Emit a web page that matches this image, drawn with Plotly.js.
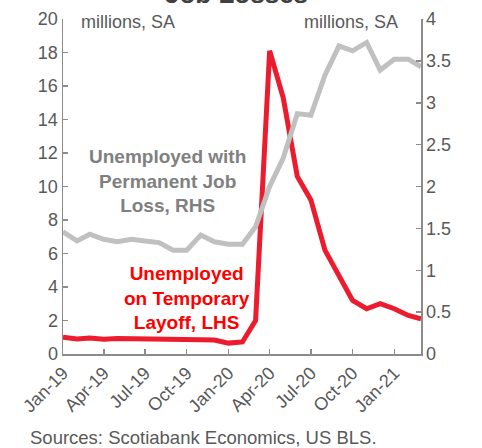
<!DOCTYPE html>
<html>
<head>
<meta charset="utf-8">
<script src="https://cdn.plot.ly/plotly-3.0.1.min.js"></script>
<style>html,body{margin:0;padding:0;background:#fff;}#chart{width:482px;height:448px;}</style>
</head>
<body>
<div id="chart"></div>
<script>
const months = ["2019-01-01","2019-02-01","2019-03-01","2019-04-01","2019-05-01","2019-06-01","2019-07-01","2019-08-01","2019-09-01","2019-10-01","2019-11-01","2019-12-01","2020-01-01","2020-02-01","2020-03-01","2020-04-01","2020-05-01","2020-06-01","2020-07-01","2020-08-01","2020-09-01","2020-10-01","2020-11-01","2020-12-01","2021-01-01","2021-02-01","2021-03-01"];
const temporaryLayoff = [1.0,0.9,0.95,0.88,0.92,0.92,0.92,0.9,0.85,0.9,0.85,0.83,0.65,0.72,2.0,18.1,15.3,10.6,9.2,6.2,4.6,3.2,2.7,3.0,2.7,2.3,2.1];
const permanentLoss = [1.46,1.35,1.43,1.37,1.34,1.37,1.35,1.33,1.24,1.24,1.42,1.34,1.31,1.31,1.52,2.0,2.34,2.87,2.85,3.33,3.68,3.62,3.72,3.39,3.52,3.52,3.43];
const tickDates = ["2019-01-01","2019-04-01","2019-07-01","2019-10-01","2020-01-01","2020-04-01","2020-07-01","2020-10-01","2021-01-01"];
const tickLabels = ["Jan-19","Apr-19","Jul-19","Oct-19","Jan-20","Apr-20","Jul-20","Oct-20","Jan-21"];
const leftTicks = [0,2,4,6,8,10,12,14,16,18,20];
const rightTicks = [0,0.5,1,1.5,2,2.5,3,3.5,4];
const rightTickLabels = ["0","0.5","1","1.5","2","2.5","3","3.5","4"];

const font = "Arial, 'Liberation Sans', sans-serif";
const axisCol = "#8c8c8c";
const txtCol = "#595959";

const traces = [
  {x: months, y: permanentLoss, type: "scatter", mode: "lines", yaxis: "y2",
   line: {color: "#c0c0c0", width: 5}, hoverinfo: "skip"},
  {x: months, y: temporaryLayoff, type: "scatter", mode: "lines", yaxis: "y",
   line: {color: "#ec1c2e", width: 5}, hoverinfo: "skip"}
];

const layout = {
  width: 482, height: 448,
  margin: {l: 63, r: 61, t: 19, b: 94},
  paper_bgcolor: "#fff", plot_bgcolor: "#fff",
  showlegend: false,
  font: {family: font, size: 18, color: txtCol},
  xaxis: {type: "date", range: ["2019-01-01","2021-03-01"], tickmode: "array",
    tickvals: tickDates, ticktext: tickLabels, tickangle: -45,
    showgrid: false, zeroline: false, showline: true, linecolor: axisCol, linewidth: 1.5,
    ticks: "inside", ticklen: 5, tickcolor: axisCol, tickwidth: 1.5,
    tickfont: {size: 18, color: txtCol}},
  yaxis: {range: [0, 20], tickmode: "array", tickvals: leftTicks,
    showgrid: false, zeroline: false, showline: true, linecolor: axisCol, linewidth: 1.5,
    ticks: "inside", ticklen: 5, tickcolor: axisCol, tickwidth: 1.5,
    tickfont: {size: 18, color: txtCol}},
  yaxis2: {range: [0, 4], overlaying: "y", side: "right", tickmode: "array",
    tickvals: rightTicks, ticktext: rightTickLabels,
    showgrid: false, zeroline: false, showline: true, linecolor: axisCol, linewidth: 1.5,
    ticks: "inside", ticklen: 5, tickcolor: axisCol, tickwidth: 1.5,
    tickfont: {size: 18, color: txtCol}},
  annotations: [
    {text: "<b>Job Losses</b>", xref: "paper", yref: "paper", x: 0.485, y: 1.024,
     xanchor: "center", yanchor: "bottom", showarrow: false, font: {size: 26, color: "#404040"}},
    {text: "millions, SA", xref: "paper", yref: "paper", x: 0.045, y: 0.99,
     xanchor: "left", yanchor: "middle", showarrow: false, font: {size: 18, color: txtCol}},
    {text: "millions, SA", xref: "paper", yref: "paper", x: 0.941, y: 0.99,
     xanchor: "right", yanchor: "middle", showarrow: false, font: {size: 18, color: txtCol}},
    {text: "<b>Unemployed with<br>Permanent Job<br>Loss, RHS</b>", xref: "paper", yref: "paper",
     x: 0.293, y: 0.516, xanchor: "center", yanchor: "middle", align: "center", showarrow: false,
     font: {size: 19, color: "#808080"}},
    {text: "<b>Unemployed<br>on Temporary<br>Layoff, LHS</b>", xref: "paper", yref: "paper",
     x: 0.346, y: 0.167, xanchor: "center", yanchor: "middle", align: "center", showarrow: false,
     font: {size: 19, color: "#ff0000"}},
    {text: "Sources: Scotiabank Economics, US BLS.", xref: "paper", yref: "paper",
     x: -0.098, y: -0.248, xanchor: "left", yanchor: "middle", showarrow: false,
     font: {size: 18.5, color: txtCol}}
  ]
};

Plotly.newPlot("chart", traces, layout, {staticPlot: true, displayModeBar: false});
</script>
</body>
</html>
